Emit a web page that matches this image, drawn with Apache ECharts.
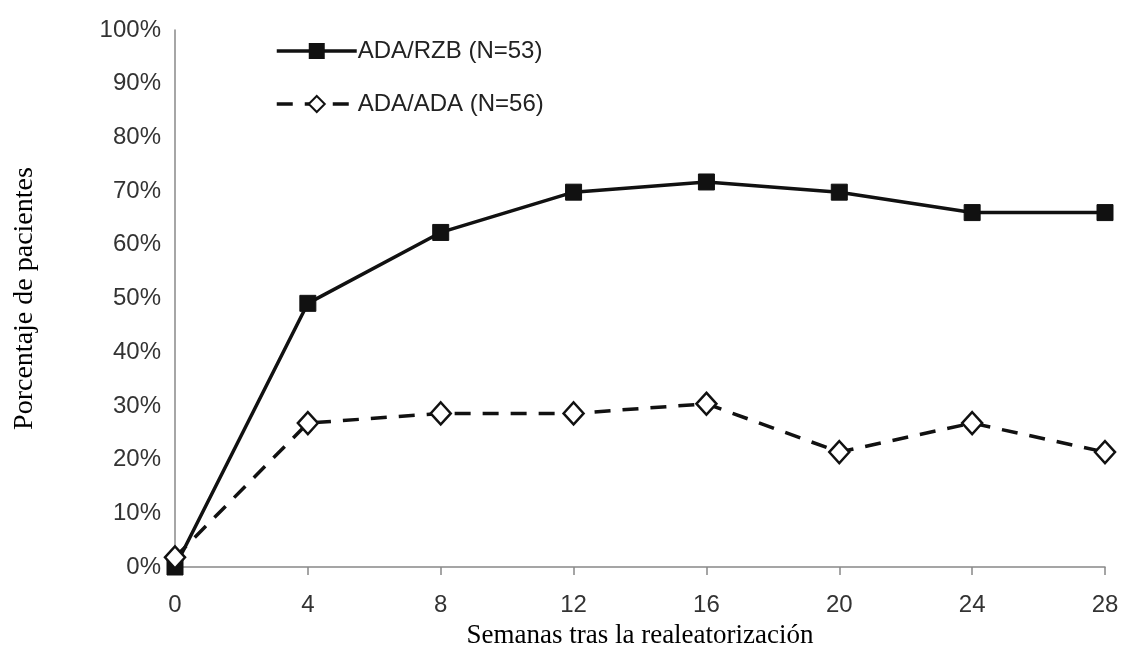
<!DOCTYPE html>
<html><head><meta charset="utf-8">
<script src="https://cdn.jsdelivr.net/npm/echarts@6/dist/echarts.min.js"></script>
<style>html,body{margin:0;padding:0;background:#fff}#c{width:1127px;height:647px}</style>
</head><body><div id="c"></div>
<script>
const weeks = [0, 4, 8, 12, 16, 20, 24, 28];
const adaRzb = [0, 49.1, 62.3, 69.8, 71.7, 69.8, 66.0, 66.0];
const adaAda = [1.8, 26.8, 28.6, 28.6, 30.4, 21.4, 26.8, 21.4];
const seriesNames = ['ADA/RZB (N=53)', 'ADA/ADA (N=56)'];
const xName = 'Semanas tras la realeatorización';
const yName = 'Porcentaje de pacientes';

const chart = echarts.init(document.getElementById('c'));
const sans = 'Liberation Sans, Arial, sans-serif';
const serif = 'Liberation Serif, Times New Roman, serif';
chart.setOption({
  backgroundColor: '#fff',
  animation: false,
  grid: {left: 175, right: 22, top: 30, bottom: 80, containLabel: false, outerBoundsMode: 'none'},
  legend: {
    orient: 'vertical', left: 270, top: 34, itemGap: 29,
    itemWidth: 80, itemHeight: 20,
    lineStyle: {width: 3.5},
    textStyle: {fontFamily: sans, fontSize: 24, color: '#222', padding: [0,0,0,-4]},
    data: seriesNames
  },
  xAxis: {
    type: 'value', min: 0, max: 28, interval: 4,
    name: xName, nameLocation: 'middle', nameGap: 55,
    nameTextStyle: {fontFamily: serif, fontSize: 27, color: '#000'},
    axisLine: {show: true, lineStyle: {color: '#888', width: 1.5}},
    axisTick: {show: true, length: 8, lineStyle: {color: '#888', width: 1.5}},
    axisLabel: {fontFamily: sans, fontSize: 24, color: '#333', margin: 26},
    splitLine: {show: false}
  },
  yAxis: {
    type: 'value', min: 0, max: 100, interval: 10,
    name: yName, nameLocation: 'middle', nameGap: 136,
    nameTextStyle: {fontFamily: serif, fontSize: 28, color: '#000'},
    axisLine: {show: true, lineStyle: {color: '#888', width: 1.5}},
    axisTick: {show: false},
    axisLabel: {fontFamily: sans, fontSize: 24, color: '#333', margin: 14, formatter: '{value}%'},
    splitLine: {show: false}
  },
  series: [
    {
      name: seriesNames[0], type: 'line',
      data: weeks.map((w, i) => [w, adaRzb[i]]),
      symbol: 'rect', symbolSize: 16, showAllSymbol: true,
      lineStyle: {color: '#111', width: 3.5},
      itemStyle: {color: '#111', borderColor: '#111'},
      z: 3
    },
    {
      name: seriesNames[1], type: 'line',
      data: weeks.map((w, i) => [w, adaAda[i]]),
      symbol: 'diamond', symbolSize: [20, 22], showAllSymbol: true,
      lineStyle: {color: '#111', width: 3.5, type: [16, 12]},
      itemStyle: {color: '#fff', borderColor: '#111', borderWidth: 2.5},
      z: 4
    }
  ]
});
</script></body></html>
